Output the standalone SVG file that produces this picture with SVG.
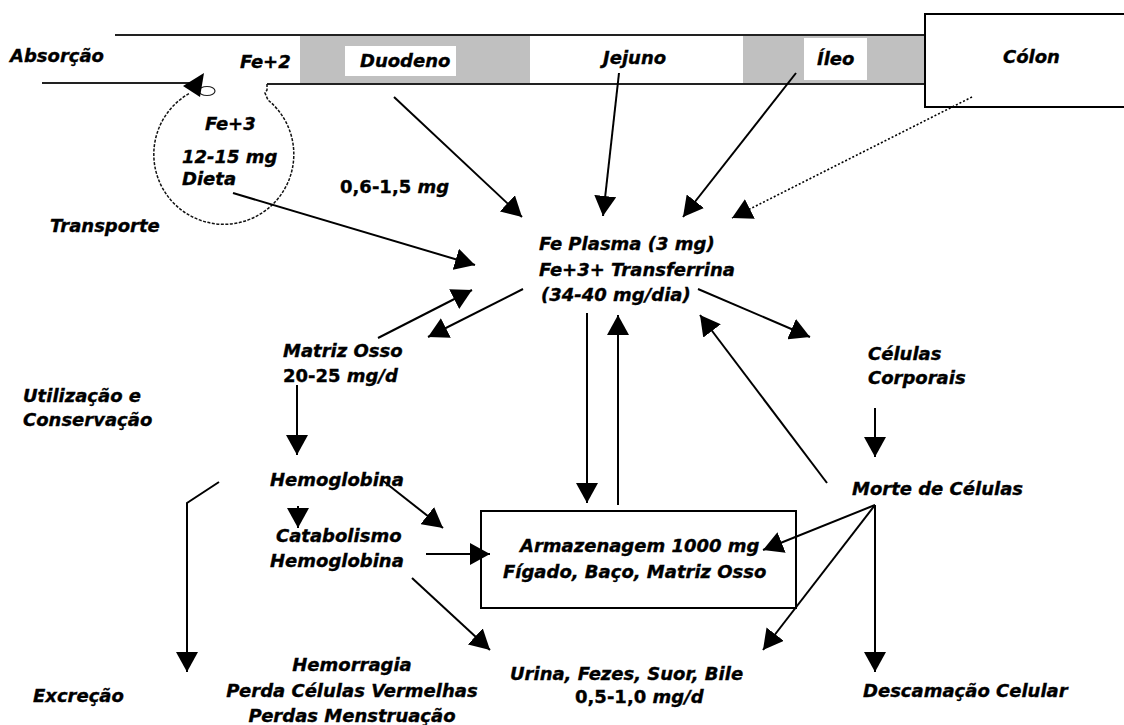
<svg xmlns="http://www.w3.org/2000/svg" width="1124" height="725" viewBox="0 0 1124 725">
<style>
text{font-family:"DejaVu Sans","Liberation Sans",sans-serif;font-weight:bold;font-style:italic;font-size:18px;fill:#000;stroke:#000;stroke-width:0.35}
.up{font-style:normal}
.ln{fill:none;stroke:#000;stroke-width:2}
.ar{fill:none;stroke:#000;stroke-width:2;marker-end:url(#ah)}
.dot{fill:none;stroke:#000;stroke-width:1.6;stroke-dasharray:2 2;marker-end:url(#ah)}
.tube{stroke:#222;stroke-width:2.2;fill:none}
.gray{fill:#c0c0c0}
.box{fill:#fff;stroke:#000;stroke-width:2}
</style>
<defs>
<marker id="ah" viewBox="0 0 20 22" refX="20" refY="11" markerWidth="20" markerHeight="22" markerUnits="userSpaceOnUse" orient="auto">
<path d="M0,0 L20,11 L0,22 z" fill="#000"/>
</marker>
</defs>
<rect width="1124" height="725" fill="#fff"/>

<g id="intestino">
<rect class="gray" x="300" y="36" width="230" height="47"/>
<rect class="gray" x="743" y="36" width="182" height="47"/>
<line class="tube" x1="115" y1="35" x2="926" y2="35"/>
<line class="tube" x1="42" y1="83" x2="190" y2="83"/>
<line class="tube" x1="267" y1="84" x2="926" y2="84"/>
<text x="10" y="62">Absorção</text>
<text x="240" y="68">Fe+2</text>
</g>
<g id="duodeno">
<rect x="345" y="46" width="111" height="30" fill="#fff"/>
<text x="360" y="67">Duodeno</text>
</g>
<g id="jejuno">
<text x="603" y="64">Jejuno</text>
</g>
<g id="ileo">
<rect x="804" y="38" width="63" height="42" fill="#fff"/>
<text x="817" y="65">Íleo</text>
</g>
<g id="colon">
<rect class="box" x="925" y="14" width="210" height="93"/>
<text x="1003" y="63">Cólon</text>
</g>

<g id="dieta">
<path d="M267,84 L267,90 L265,93 L268,100 A70,70 0 1 1 190,93" fill="none" stroke="#111" stroke-width="1.5" stroke-dasharray="3 1.5"/>
<ellipse cx="207" cy="91" rx="8" ry="4.5" fill="none" stroke="#222" stroke-width="1.2"/>
<path d="M204,73 L183,86 L200,97 z" fill="#000"/>
<text x="205" y="130">Fe+3</text>
<text x="182" y="163">12-15 mg</text>
<text x="182" y="185">Dieta</text>
</g>

<g id="labels">
<text x="50" y="232">Transporte</text>
<text x="340" y="193"><tspan class="up">0,6-1,5</tspan> mg</text>
<text x="23" y="402">Utilização e</text>
<text x="23" y="426">Conservação</text>
<text x="33" y="702">Excreção</text>
</g>

<g id="plasma">
<text x="539" y="250">Fe Plasma (3 mg)</text>
<text x="539" y="276">Fe+3+ Transferrina</text>
<text x="541" y="301">(34-40 mg/dia)</text>
</g>

<g id="matriz">
<text x="283" y="357">Matriz Osso</text>
<text x="283" y="382"><tspan class="up">20-25</tspan> mg/d</text>
</g>

<g id="hemoglobina">
<text x="270" y="486">Hemoglobina</text>
</g>

<g id="catabolismo">
<text x="276" y="542">Catabolismo</text>
<text x="270" y="567">Hemoglobina</text>
</g>

<g id="armazenagem">
<rect class="box" x="481" y="511" width="315" height="97"/>
<text x="520" y="552">Armazenagem 1000 mg</text>
<text x="503" y="578">Fígado, Baço, Matriz Osso</text>
</g>

<g id="celulas">
<text x="868" y="360">Células</text>
<text x="868" y="384">Corporais</text>
</g>

<g id="morte">
<text x="852" y="495">Morte de Células</text>
</g>

<g id="urina">
<text x="510" y="680">Urina, Fezes, Suor, Bile</text>
<text x="575" y="703"><tspan class="up">0,5-1,0</tspan> mg/d</text>
</g>

<g id="descamacao">
<text x="863" y="697">Descamação Celular</text>
</g>

<g id="hemorragia">
<text x="352" y="671" text-anchor="middle">Hemorragia</text>
<text x="352" y="697" text-anchor="middle">Perda Células Vermelhas</text>
<text x="352" y="722" text-anchor="middle">Perdas Menstruação</text>
</g>

<g id="connectors">
<path class="ar" d="M233,193 L475,265"/>
<path class="ar" d="M394,97 L522,217"/>
<path class="ar" d="M619,73 L603,216"/>
<path class="ar" d="M796,73 L683,217"/>
<path class="dot" d="M972,97 L732,218"/>
<path class="ar" d="M378,338 L472,290"/>
<path class="ar" d="M523,289 L428,337"/>
<path class="ar" d="M698,289 L810,337"/>
<path class="ar" d="M827,483 L700,315"/>
<path class="ar" d="M587,313 L587,503"/>
<path class="ar" d="M618,505 L618,315"/>
<path class="ar" d="M297,385 L297,455"/>
<path class="ar" d="M298,506 L298,528"/>
<path class="ar" d="M382,480 L443,528"/>
<path class="ar" d="M426,554 L490,554"/>
<path class="ar" d="M412,578 L490,650"/>
<path class="ar" d="M219,482 L187,503 L187,672"/>
<path class="ar" d="M875,408 L875,457"/>
<path class="ar" d="M875,505 L763,550"/>
<path class="ar" d="M875,505 L763,650"/>
<path class="ar" d="M875,505 L875,672"/>
</g>
</svg>
